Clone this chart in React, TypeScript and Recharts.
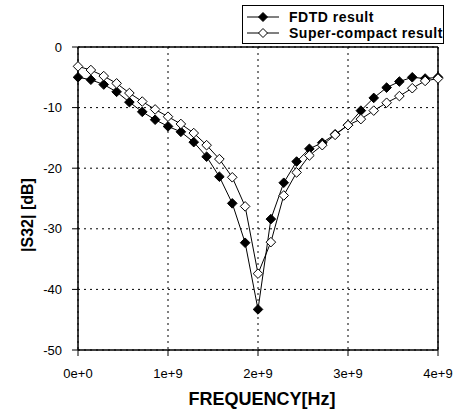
import React from 'react';
import { LineChart, Line, XAxis, YAxis, CartesianGrid, ReferenceLine, Legend } from 'recharts';

const freqGHz = [0, 0.143, 0.286, 0.429, 0.571, 0.714, 0.857, 1.0, 1.143, 1.286, 1.429, 1.571, 1.714, 1.857, 2.0, 2.143, 2.286, 2.429, 2.571, 2.714, 2.857, 3.0, 3.143, 3.286, 3.429, 3.571, 3.714, 3.857, 4.0];
const fdtd = [-5.0, -5.4, -6.2, -7.4, -9.1, -10.7, -12.0, -13.1, -14.0, -15.7, -18.1, -21.4, -25.8, -32.3, -43.3, -28.4, -22.4, -18.9, -16.8, -15.8, -14.4, -12.9, -10.5, -8.4, -6.7, -5.7, -5.0, -5.2, -5.0];
const superCompact = [-3.2, -3.8, -4.8, -6.0, -7.6, -9.0, -10.3, -11.5, -12.7, -14.2, -16.2, -18.5, -21.5, -26.3, -37.4, -32.2, -24.5, -20.7, -17.9, -16.2, -14.5, -12.9, -11.9, -10.5, -9.2, -8.1, -6.8, -5.6, -5.2];
const xTicks = [0, 1e9, 2e9, 3e9, 4e9];
const xTickLabels = ['0e+0', '1e+9', '2e+9', '3e+9', '4e+9'];
const yTicks = [-50, -40, -30, -20, -10, 0];
const seriesNames = ['FDTD result', 'Super-compact result'];

const data = freqGHz.map((f, i) => ({ f: f * 1e9, fdtd: fdtd[i], sc: superCompact[i] }));

const FONT = '"Liberation Sans", Arial, sans-serif';

const diamond = (cx: number, cy: number, r: number) =>
  `${cx},${cy - r} ${cx + r},${cy} ${cx},${cy + r} ${cx - r},${cy}`;

const makeDot = (fill: string) => (p: any) => {
  if (p.cx == null || p.cy == null) return <g key={`d${p.index}`} />;
  return (
    <polygon key={`d${p.index}`} points={diamond(p.cx, p.cy, 4.8)} fill={fill} stroke="#000" strokeWidth={1} />
  );
};

const LegendBox = () => (
  <div
    style={{
      border: '1px solid #000',
      background: '#fff',
      width: 202,
      height: 39,
      boxSizing: 'border-box',
      paddingTop: 3,
      fontFamily: FONT,
      fontWeight: 'bold',
      fontSize: 14,
      overflow: 'hidden',
    }}
  >
    {seriesNames.map((n, i) => (
      <div key={n} style={{ display: 'flex', alignItems: 'center', height: 16, whiteSpace: 'nowrap' }}>
        <svg width={46} height={16} style={{ flex: 'none' }}>
          <line x1={4} y1={8} x2={36} y2={8} stroke="#000" strokeWidth={1} />
          <polygon points={diamond(20, 8, 4.5)} fill={i === 0 ? '#000' : '#fff'} stroke="#000" strokeWidth={1} />
        </svg>
        <span style={{ letterSpacing: 0.5 }}>{n}</span>
      </div>
    ))}
  </div>
);

export default function App() {
  return (
    <div style={{ position: 'absolute', left: 0, top: 0, width: 466, height: 410, background: '#fff' }}>
      <LineChart width={466} height={410} data={data} margin={{ top: 47, right: 28, left: 18, bottom: 30 }}>
        <CartesianGrid stroke="#000" strokeDasharray="2 4" strokeWidth={1} />
        <XAxis
          dataKey="f"
          type="number"
          domain={[0, 4e9]}
          ticks={xTicks}
          tickFormatter={(v: number) => xTickLabels[xTicks.indexOf(v)]}
          height={30}
          axisLine={{ stroke: '#000', strokeWidth: 1.5 }}
          tickLine={{ stroke: '#000' }}
          tickSize={6}
          tickMargin={13}
          tick={{ fill: '#000', fontSize: 13, fontFamily: FONT }}
          label={{
            content: () => (
              <text x={262} y={405} textAnchor="middle" fontFamily={FONT} fontWeight="bold" fontSize={18} fill="#000">
                FREQUENCY[Hz]
              </text>
            ),
          }}
        />
        <YAxis
          type="number"
          domain={[-50, 0]}
          ticks={yTicks}
          width={60}
          axisLine={{ stroke: '#000', strokeWidth: 1.5 }}
          tickLine={{ stroke: '#000' }}
          tickSize={6}
          tickMargin={10}
          tick={{ fill: '#000', fontSize: 13, fontFamily: FONT }}
          label={{
            content: () => (
              <text
                x={27}
                y={215}
                transform="rotate(-90 27 215)"
                textAnchor="middle"
                dominantBaseline="central"
                fontFamily={FONT}
                fontWeight="bold"
                fontSize={16}
                fill="#000"
              >
                |S32| [dB]
              </text>
            ),
          }}
        />
        <ReferenceLine y={0} stroke="#000" strokeWidth={1.5} />
        <ReferenceLine x={4e9} stroke="#000" strokeWidth={1.5} />
        <Legend
          layout="vertical"
          align="center"
          verticalAlign="middle"
          wrapperStyle={{ position: 'absolute', left: 242, top: 5, width: 202 }}
          content={() => <LegendBox />}
        />
        <Line
          dataKey="fdtd"
          name={seriesNames[0]}
          stroke="#000"
          strokeWidth={1}
          isAnimationActive={false}
          dot={makeDot('#000')}
          activeDot={false}
        />
        <Line
          dataKey="sc"
          name={seriesNames[1]}
          stroke="#000"
          strokeWidth={1}
          isAnimationActive={false}
          dot={makeDot('#fff')}
          activeDot={false}
        />
      </LineChart>
    </div>
  );
}
